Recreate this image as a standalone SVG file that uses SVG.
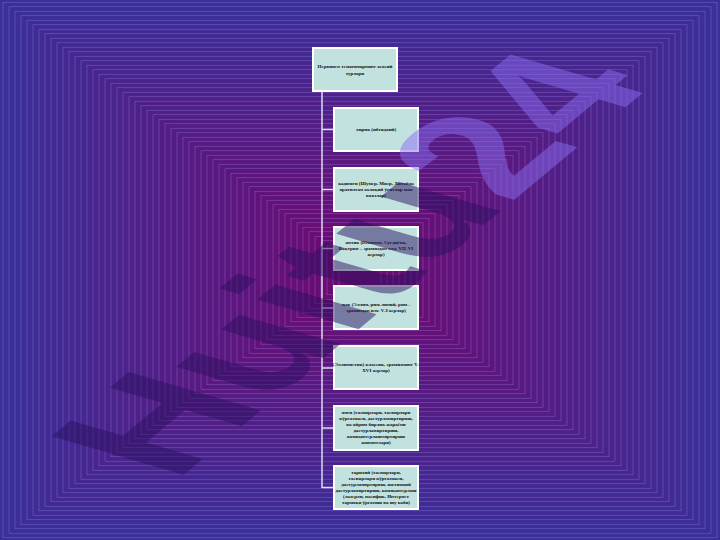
<svg xmlns="http://www.w3.org/2000/svg" width="720" height="540" viewBox="0 0 720 540">
<style>
.r{stroke:#a99cff;stroke-opacity:0.45;stroke-width:0.6}
.box{fill:#c2e2e0;stroke:#ffffff;stroke-width:2}
.t{font-family:"Liberation Serif","Times New Roman",serif;font-size:5px;font-weight:bold;fill:#111111;text-anchor:middle}
.conn{stroke:#dcdcec;stroke-width:1.5;fill:none}
.wm{font-family:"Liberation Sans",Arial,sans-serif;font-weight:bold;font-size:100px}
</style>
<rect x="0" y="0" width="720" height="540" fill="#3a3098"/>
<g id="background">
<rect class="r" x="3" y="2.25" width="714" height="535.5" fill="#3a3098"/>
<rect class="r" x="9" y="6.75" width="702" height="526.5" fill="#3b2f97"/>
<rect class="r" x="15" y="11.25" width="690" height="517.5" fill="#3c2f97"/>
<rect class="r" x="21" y="15.75" width="678" height="508.5" fill="#3d2e96"/>
<rect class="r" x="27" y="20.25" width="666" height="499.5" fill="#3e2d95"/>
<rect class="r" x="33" y="24.75" width="654" height="490.5" fill="#3f2d94"/>
<rect class="r" x="39" y="29.25" width="642" height="481.5" fill="#402c94"/>
<rect class="r" x="45" y="33.75" width="630" height="472.5" fill="#412b93"/>
<rect class="r" x="51" y="38.25" width="618" height="463.5" fill="#412b92"/>
<rect class="r" x="57" y="42.75" width="606" height="454.5" fill="#422a92"/>
<rect class="r" x="63" y="47.25" width="594" height="445.5" fill="#432991"/>
<rect class="r" x="69" y="51.75" width="582" height="436.5" fill="#442990"/>
<rect class="r" x="75" y="56.25" width="570" height="427.5" fill="#45288f"/>
<rect class="r" x="81" y="60.75" width="558" height="418.5" fill="#46278f"/>
<rect class="r" x="87" y="65.25" width="546" height="409.5" fill="#47268e"/>
<rect class="r" x="93" y="69.75" width="534" height="400.5" fill="#48268d"/>
<rect class="r" x="99" y="74.25" width="522" height="391.5" fill="#49258d"/>
<rect class="r" x="105" y="78.75" width="510" height="382.5" fill="#4a248c"/>
<rect class="r" x="111" y="83.25" width="498" height="373.5" fill="#4b248b"/>
<rect class="r" x="117" y="87.75" width="486" height="364.5" fill="#4c238a"/>
<rect class="r" x="123" y="92.25" width="474" height="355.5" fill="#4d228a"/>
<rect class="r" x="129" y="96.75" width="462" height="346.5" fill="#4e2289"/>
<rect class="r" x="135" y="101.25" width="450" height="337.5" fill="#4e2188"/>
<rect class="r" x="141" y="105.75" width="438" height="328.5" fill="#4f2088"/>
<rect class="r" x="147" y="110.25" width="426" height="319.5" fill="#502087"/>
<rect class="r" x="153" y="114.75" width="414" height="310.5" fill="#511f86"/>
<rect class="r" x="159" y="119.25" width="402" height="301.5" fill="#521e85"/>
<rect class="r" x="165" y="123.75" width="390" height="292.5" fill="#531e85"/>
<rect class="r" x="171" y="128.25" width="378" height="283.5" fill="#541d84"/>
<rect class="r" x="177" y="132.75" width="366" height="274.5" fill="#551c83"/>
<rect class="r" x="183" y="137.25" width="354" height="265.5" fill="#561c83"/>
<rect class="r" x="189" y="141.75" width="342" height="256.5" fill="#571b82"/>
<rect class="r" x="195" y="146.25" width="330" height="247.5" fill="#581a81"/>
<rect class="r" x="201" y="150.75" width="318" height="238.5" fill="#591a80"/>
<rect class="r" x="207" y="155.25" width="306" height="229.5" fill="#5a1980"/>
<rect class="r" x="213" y="159.75" width="294" height="220.5" fill="#5b187f"/>
<rect class="r" x="219" y="164.25" width="282" height="211.5" fill="#5b187e"/>
<rect class="r" x="225" y="168.75" width="270" height="202.5" fill="#5c177e"/>
<rect class="r" x="231" y="173.25" width="258" height="193.5" fill="#5d167d"/>
<rect class="r" x="237" y="177.75" width="246" height="184.5" fill="#5e167c"/>
<rect class="r" x="243" y="182.25" width="234" height="175.5" fill="#5f157b"/>
<rect class="r" x="249" y="186.75" width="222" height="166.5" fill="#60147b"/>
<rect class="r" x="255" y="191.25" width="210" height="157.5" fill="#61137a"/>
<rect class="r" x="261" y="195.75" width="198" height="148.5" fill="#621379"/>
<rect class="r" x="267" y="200.25" width="186" height="139.5" fill="#631279"/>
<rect class="r" x="273" y="204.75" width="174" height="130.5" fill="#641178"/>
<rect class="r" x="279" y="209.25" width="162" height="121.5" fill="#651177"/>
<rect class="r" x="285" y="213.75" width="150" height="112.5" fill="#661076"/>
<rect class="r" x="291" y="218.25" width="138" height="103.5" fill="#670f76"/>
<rect class="r" x="297" y="222.75" width="126" height="94.5" fill="#680f75"/>
<rect class="r" x="303" y="227.25" width="114" height="85.5" fill="#680e74"/>
<rect class="r" x="309" y="231.75" width="102" height="76.5" fill="#690d74"/>
<rect class="r" x="315" y="236.25" width="90" height="67.5" fill="#6a0d73"/>
<rect class="r" x="321" y="240.75" width="78" height="58.5" fill="#6b0c72"/>
<rect class="r" x="327" y="245.25" width="66" height="49.5" fill="#6c0b71"/>
<rect class="r" x="333" y="249.75" width="54" height="40.5" fill="#6d0b71"/>
<rect class="r" x="339" y="254.25" width="42" height="31.5" fill="#6e0a70"/>
</g>
<g id="connectors">
<path class="conn" d="M322 92 V488 M322 129.5 H333 M322 189.5 H333 M322 248.5 H333 M322 308 H333 M322 368 H333 M322 428 H333 M322 487.5 H333"/>
</g>
<g id="root">
<rect class="box" x="313" y="48" width="84" height="43"/>
<text class="t" x="355" y="68">Первичен тематичарнинг асосий</text>
<text class="t" x="355" y="75">турлари</text>
</g>
<g id="n1">
<rect class="box" x="334" y="108" width="84" height="43"/>
<text class="t" x="376" y="131">лирик (ибтидоий)</text>
</g>
<g id="n2">
<rect class="box" x="334" y="168" width="84" height="43"/>
<text class="t" x="376" y="185">кадимги (Шумер, Миср, Хитойда</text>
<text class="t" x="376" y="191">яратилган ахлоқий ўгитлар ман</text>
<text class="t" x="376" y="197">ваъзлар)</text>
</g>
<g id="n3">
<rect class="box" x="334" y="227" width="84" height="43"/>
<text class="t" x="376" y="244">антик (Юнонон, Суғдиёна,</text>
<text class="t" x="376" y="250">Бақтрия – эрамиздан олд. VII-VI</text>
<text class="t" x="376" y="256">асрлар)</text>
</g>
<g id="n4">
<rect class="box" x="334" y="286" width="84" height="43"/>
<text class="t" x="376" y="306">илк (Эллин, рим-линий, рим -</text>
<text class="t" x="376" y="312">эрамиздан илг. V-I асрлар)</text>
</g>
<g id="n5">
<rect class="box" x="334" y="346" width="84" height="43"/>
<text class="t" x="376" y="366">(Эллинистик) классик, эрамизнинг V-</text>
<text class="t" x="376" y="372">XVI асрлар)</text>
</g>
<g id="n6">
<rect class="box" x="334" y="406" width="84" height="44"/>
<text class="t" x="376" y="414">янги (тасвирлари, тасвирлари</text>
<text class="t" x="376" y="420">кўргазмаси, дастурланиртириш,</text>
<text class="t" x="376" y="426">ва айрим бирлик жараёни</text>
<text class="t" x="376" y="432">дастурланиртириш,</text>
<text class="t" x="376" y="438">компьютерлаштиртириш</text>
<text class="t" x="376" y="444">жиноятлари)</text>
</g>
<g id="n7">
<rect class="box" x="334" y="466" width="84" height="43"/>
<text class="t" x="376" y="474">тарихий (тасвирлари,</text>
<text class="t" x="376" y="480">тасвирлари кўргазмаси,</text>
<text class="t" x="376" y="486">дастурланиртириш, ижтимоий</text>
<text class="t" x="376" y="492">дастурланиртириш, компьютерлаш</text>
<text class="t" x="376" y="498">(лазерли, пасифик, Интернет</text>
<text class="t" x="376" y="504">тармоқи ўргатиш ва шу каби)</text>
</g>
<g id="watermark">
<text class="wm" transform="matrix(1.31 -1.09 1.92 0.56 175 482)"><tspan fill="#2a1060" fill-opacity="0.5">Huitu</tspan><tspan fill="#8a6cf0" fill-opacity="0.5">24</tspan></text>
</g>
</svg>
